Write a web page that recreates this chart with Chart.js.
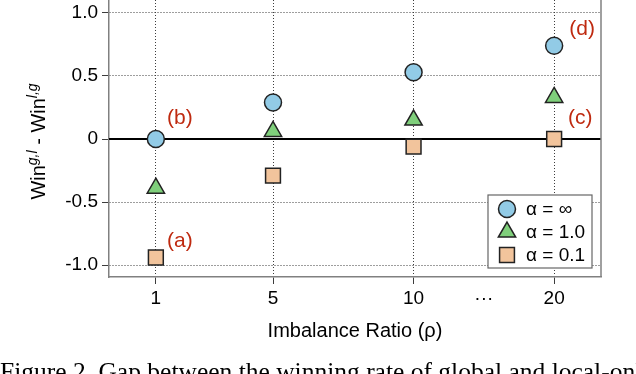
<!DOCTYPE html>
<html>
<head>
<meta charset="utf-8">
<script src="https://cdn.jsdelivr.net/npm/chart.js@4.4.0/dist/chart.umd.min.js"></script>
<style>
  html, body { margin: 0; padding: 0; background: #fff; overflow: hidden; }
  #wrap { position: relative; width: 636px; height: 374px; overflow: hidden; }
  #caption {
    position: absolute; left: 0; top: 359px;
    font-family: "Liberation Serif", "Times New Roman", serif;
    font-size: 25.5px; line-height: 25.5px; white-space: nowrap; color: #000;
  }
</style>
</head>
<body>
<div id="wrap">
  <canvas id="chart" width="636" height="374"></canvas>
  <div id="caption">Figure 2. Gap between the winning rate of global and local-only</div>
</div>
<script>
// imbalance ratios and where they sit on the (unevenly spaced) x axis
var rhoLabels = ['1', '5', '10', '20'];
var rhoSlot = [0, 1, 2.2, 3.4];

// Win^{g,l} - Win^{l,g}
var gapInf = [0.0, 0.29, 0.53, 0.74];      // α = ∞
var gapOne = [-0.39, 0.06, 0.15, 0.33];    // α = 1.0
var gapTenth = [-0.94, -0.29, -0.06, 0.0]; // α = 0.1

var xTicks = [0, 1, 2.2, 2.8, 3.4];
var xTickLabels = ['1', '5', '10', '···', '20'];
var yTicks = [-1.0, -0.5, 0, 0.5, 1.0];

var seriesNames = ['α = ∞', 'α = 1.0', 'α = 0.1'];
var noteLabels = ['(a)', '(b)', '(c)', '(d)'];

function points(vals) {
  return vals.map(function (v, i) { return { x: rhoSlot[i], y: v }; });
}

var sans = '"Liberation Sans", Arial, Helvetica, sans-serif';
Chart.defaults.font.family = sans;
Chart.defaults.color = '#000';

var gridCol = '#3c3c3c';

// label -> [dataset, point index, dx, dy]
var notePlace = {
  '(a)': [2, 0, 24, -16],
  '(b)': [0, 0, 24, -21],
  '(c)': [2, 3, 26, -21],
  '(d)': [0, 3, 28, -17],
};

var extras = {
  id: 'extras',
  beforeDatasetsDraw: function (chart) {
    var ctx = chart.ctx, a = chart.chartArea, y = chart.scales.y;
    ctx.save();
    var y0 = y.getPixelForValue(0);
    ctx.strokeStyle = '#000';
    ctx.lineWidth = 2;
    ctx.beginPath(); ctx.moveTo(a.left, y0); ctx.lineTo(a.right, y0); ctx.stroke();
    ctx.strokeStyle = '#808080';
    ctx.lineWidth = 1.5;
    ctx.beginPath(); ctx.moveTo(a.right, a.top); ctx.lineTo(a.right, a.bottom); ctx.stroke();
    ctx.restore();
  },
  afterDatasetsDraw: function (chart) {
    var ctx = chart.ctx, a = chart.chartArea;
    ctx.save();

    // (a)..(d) notes next to their points
    ctx.fillStyle = '#bf2a10';
    ctx.font = '21px ' + sans;
    ctx.textAlign = 'center';
    ctx.textBaseline = 'middle';
    noteLabels.forEach(function (t) {
      var p = notePlace[t];
      var el = chart.getDatasetMeta(p[0]).data[p[1]];
      ctx.fillText(t, el.x + p[2], el.y + p[3]);
    });

    // legend box, bottom right inside the plot
    var bw = 104, bh = 73;
    var bx = a.right - 9 - bw, by = a.bottom - 9 - bh;
    ctx.fillStyle = '#fff';
    ctx.fillRect(bx, by, bw, bh);
    ctx.strokeStyle = '#666';
    ctx.lineWidth = 1.2;
    ctx.strokeRect(bx, by, bw, bh);
    ctx.textAlign = 'left';
    ctx.font = '19px ' + sans;
    chart.data.datasets.forEach(function (ds, i) {
      var cy = by + 14 + i * 23;
      ctx.fillStyle = ds.backgroundColor;
      ctx.strokeStyle = ds.borderColor;
      ctx.lineWidth = ds.borderWidth;
      Chart.helpers.drawPoint(ctx, {
        pointStyle: ds.pointStyle, radius: ds.pointRadius,
        borderWidth: ds.borderWidth, rotation: 0
      }, bx + 19, cy);
      ctx.fillStyle = '#000';
      ctx.fillText(ds.label, bx + 38, cy + 1);
    });

    // x title
    ctx.textAlign = 'center';
    ctx.textBaseline = 'alphabetic';
    ctx.font = '20px ' + sans;
    ctx.fillText('Imbalance Ratio (ρ)', (a.left + a.right) / 2, 337);

    // y title with superscripts
    var parts = [
      ['Win', '20px ' + sans, 0],
      ['g,l', 'italic 14px ' + sans, -8],
      [' - Win', '20px ' + sans, 0],
      ['l,g', 'italic 14px ' + sans, -8],
    ];
    var total = 0;
    parts.forEach(function (p) { ctx.font = p[1]; total += ctx.measureText(p[0]).width; });
    ctx.translate(45, (a.top + a.bottom) / 2 + 3);
    ctx.rotate(-Math.PI / 2);
    ctx.textAlign = 'left';
    var cx = -total / 2;
    parts.forEach(function (p) {
      ctx.font = p[1];
      ctx.fillText(p[0], cx, p[2]);
      cx += ctx.measureText(p[0]).width;
    });
    ctx.restore();
  }
};

var mark = { borderColor: '#222', borderWidth: 1.5 };

new Chart(document.getElementById('chart').getContext('2d'), {
  type: 'scatter',
  data: {
    datasets: [
      Object.assign({ label: seriesNames[0], data: points(gapInf), pointStyle: 'circle',
        pointRadius: 8.5, backgroundColor: '#92cbe6' }, mark),
      Object.assign({ label: seriesNames[1], data: points(gapOne), pointStyle: 'triangle',
        pointRadius: 10, backgroundColor: '#7fcf7b' }, mark),
      Object.assign({ label: seriesNames[2], data: points(gapTenth), pointStyle: 'rect',
        pointRadius: 10.5, backgroundColor: '#f2c49c' }, mark),
    ],
  },
  options: {
    responsive: false,
    animation: false,
    layout: { autoPadding: false, padding: { left: 0, right: 35, top: 0, bottom: 0 } },
    plugins: {
      legend: { display: false },
      tooltip: { enabled: false },
    },
    scales: {
      x: {
        type: 'linear',
        min: -0.4,
        max: 3.8,
        afterBuildTicks: function (s) { s.ticks = xTicks.map(function (v) { return { value: v }; }); },
        afterFit: function (s) { s.height = 97; s.paddingLeft = 0; s.paddingRight = 0; },
        ticks: {
          autoSkip: false,
          maxRotation: 0,
          padding: 3,
          font: { size: 19 },
          callback: function (v, i) { return xTickLabels[i]; },
        },
        grid: {
          color: function (c) { return c.tick && c.tick.value === 2.8 ? 'rgba(0,0,0,0)' : gridCol; },
          tickColor: function (c) { return c.tick && c.tick.value === 2.8 ? 'rgba(0,0,0,0)' : gridCol; },
          lineWidth: 1,
          tickLength: 7,
        },
        border: { display: true, color: '#808080', width: 1.5, dash: [1, 2] },
      },
      y: {
        min: -1.095,
        max: 1.103,
        afterBuildTicks: function (s) { s.ticks = yTicks.map(function (v) { return { value: v }; }); },
        afterFit: function (s) { s.width = 109; s.paddingTop = 0; s.paddingBottom = 0; },
        ticks: {
          padding: 4,
          font: { size: 19 },
          callback: function (v) { return v === 0 ? '0' : v.toFixed(1); },
        },
        grid: {
          color: function (c) { return c.tick && c.tick.value === 0 ? 'rgba(0,0,0,0)' : gridCol; },
          tickColor: gridCol,
          lineWidth: 1,
          tickLength: 7,
        },
        border: { display: true, color: '#808080', width: 1.5, dash: [1, 2] },
      },
    },
  },
  plugins: [extras],
});
</script>
</body>
</html>
